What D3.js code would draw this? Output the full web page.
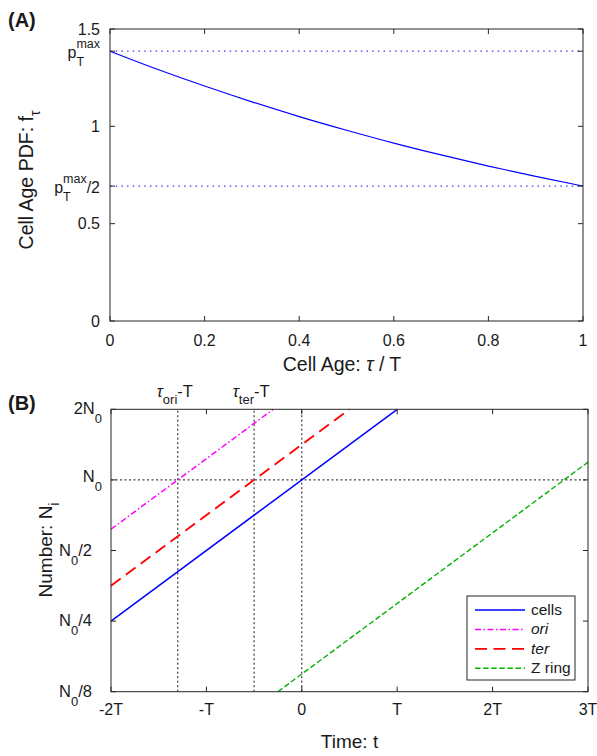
<!DOCTYPE html>
<html><head><meta charset="utf-8">
<script src="https://cdn.jsdelivr.net/npm/d3@7"></script>
<style>
body{margin:0;background:#fff}
text{font-family:"Liberation Sans",Arial,Helvetica,sans-serif;fill:#1a1a1a;white-space:pre}
</style>
</head><body>
<svg id="c" width="597" height="756"></svg>
<script>
// ---------------- DATA ----------------
// Panel A: cell age PDF
const tauA = [0, 0.1, 0.2, 0.3, 0.4, 0.5, 0.6, 0.7, 0.8, 0.9, 1];
const pdfA = [1.386, 1.293, 1.207, 1.126, 1.050, 0.980, 0.914, 0.853, 0.796, 0.743, 0.693];
const refLevelsA = [1.386, 0.693];            // p_T^max and p_T^max/2
const xTicksA = [0, 0.2, 0.4, 0.6, 0.8, 1];
const xTickLabelsA = ["0", "0.2", "0.4", "0.6", "0.8", "1"];
const yTicksA = [0, 0.5, 0.693, 1, 1.386, 1.5];
const yTickLabelsA = ["0", "0.5", "p_T^{max}/2", "1", "p_T^{max}", "1.5"];

// Panel B: numbers vs time (t in units of T, N in units of N0)
const seriesNames = ["cells", "ori", "ter", "Z ring"];
const cellsT = [-2, 1],     cellsN = [0.25, 2];
const oriT   = [-2, -0.3],  oriN   = [0.616, 2];
const terT   = [-2, 0.5],   terN   = [0.354, 2];
const zringT = [-0.25, 3],  zringN = [0.125, 1.19];
const xTicksB = [-2, -1, 0, 1, 2, 3];
const xTickLabelsB = ["-2T", "-T", "0", "T", "2T", "3T"];
const yTicksB = [0.125, 0.25, 0.5, 1, 2];
const yTickLabelsB = ["N_0/8", "N_0/4", "N_0/2", "N_0", "2N_0"];
const vLinesB = [-1.3, -0.5, 0];
const vLineLabelsB = ["τ_{ori}-T", "τ_{ter}-T"];
const hLineB = 1;

// ---------------- HELPERS ----------------
const svg = d3.select("#c");
const AX = "#262626";

function parseTex(s) {
  const parts = []; let buf = "";
  const flush = () => { if (buf) { parts.push({type: "text", text: buf}); buf = ""; } };
  for (let i = 0; i < s.length; i++) {
    const c = s[i];
    if (c === "_" || c === "^") {
      flush();
      let g;
      if (s[i + 1] === "{") { const j = s.indexOf("}", i); g = s.slice(i + 2, j); i = j; }
      else { g = s[i + 1]; i++; }
      const key = c === "_" ? "sub" : "sup";
      const last = parts[parts.length - 1];
      if (last && last.type === "script" && !last[key]) last[key] = g;
      else parts.push({type: "script", [key]: g});
    } else if (c === "τ") {
      flush(); parts.push({type: "text", text: "τ", italic: true});
    } else buf += c;
  }
  flush();
  return parts;
}

function mathText(parent, str, o) {
  const fs = o.fs, ss = o.ss || Math.round(fs * 0.8);
  const g = parent.append("g");
  let cx = 0;
  const add = (t, x, y, size, it) => {
    const el = g.append("text").attr("x", x).attr("y", y).style("font-size", size + "px").text(t);
    if (it) el.style("font-style", "italic");
    return el.node().getComputedTextLength();
  };
  parseTex(str).forEach(p => {
    if (p.type === "text") cx += add(p.text, cx, 0, fs, p.italic || o.italic);
    else {
      let w = 0;
      if (p.sub) w = Math.max(w, add(p.sub, cx, o.subDy ?? 8, ss));
      if (p.sup) w = Math.max(w, add(p.sup, cx, o.supDy ?? -9.5, ss));
      cx += w;
    }
  });
  const shift = o.anchor === "end" ? -cx : o.anchor === "middle" ? -cx / 2 : 0;
  g.selectAll("text").attr("x", function () { return +this.getAttribute("x") + shift; });
  g.attr("transform", `translate(${o.x},${o.y})` + (o.rotate ? ` rotate(${o.rotate})` : ""));
  return g;
}

function frame(x0, x1, y0, y1) {
  svg.append("rect").attr("x", x0).attr("y", y1).attr("width", x1 - x0).attr("height", y0 - y1)
    .attr("fill", "none").attr("stroke", AX).attr("stroke-width", 1);
}
function ticks(xs, ys, xTickVals, yTickVals, len) {
  const [x0, x1] = xs.range(), [y0, y1] = ys.range();
  const g = svg.append("g").attr("stroke", AX).attr("stroke-width", 1);
  xTickVals.forEach(v => {
    const x = xs(v);
    g.append("line").attr("x1", x).attr("x2", x).attr("y1", y0).attr("y2", y0 - len);
    g.append("line").attr("x1", x).attr("x2", x).attr("y1", y1).attr("y2", y1 + len);
  });
  yTickVals.forEach(v => {
    const y = ys(v);
    g.append("line").attr("x1", x0).attr("x2", x0 + len).attr("y1", y).attr("y2", y);
    g.append("line").attr("x1", x1).attr("x2", x1 - len).attr("y1", y).attr("y2", y);
  });
}

// ---------------- PANEL A ----------------
const xA = d3.scaleLinear().domain([0, 1]).range([110, 583]);
const yA = d3.scaleLinear().domain([0, 1.5]).range([321, 29]);

refLevelsA.forEach(v => {
  svg.append("line").attr("x1", xA(0)).attr("x2", xA(1)).attr("y1", yA(v)).attr("y2", yA(v))
    .attr("stroke", "#3a3aff").attr("stroke-width", 1.2).attr("stroke-dasharray", "1.5,4.2");
});
svg.append("path").datum(tauA.map((t, i) => [t, pdfA[i]]))
  .attr("d", d3.line().x(d => xA(d[0])).y(d => yA(d[1])).curve(d3.curveMonotoneX))
  .attr("fill", "none").attr("stroke", "#0000ff").attr("stroke-width", 1.2);

frame(110, 583, 321, 29);
ticks(xA, yA, xTicksA, yTicksA, 5);

xTicksA.forEach((v, i) => mathText(svg, xTickLabelsA[i], {x: xA(v), y: 346, fs: 16, anchor: "middle"}));
yTicksA.forEach((v, i) => {
  const lab = yTickLabelsA[i];
  const hasScript = /[_^]/.test(lab);
  mathText(svg, lab, {x: 100, y: yA(v) + (hasScript ? 6.5 : 5.8), fs: 16, ss: 12.5, anchor: "end", subDy: 8, supDy: -9.5});
});
mathText(svg, "Cell Age: τ / T", {x: 342, y: 371, fs: 19.5, anchor: "middle"});
mathText(svg, "Cell Age PDF: f_τ", {x: 33, y: 180, fs: 19.5, ss: 14, anchor: "middle", rotate: -90, subDy: 7});
svg.append("text").attr("x", 8).attr("y", 27).style("font-size", "20px").style("font-weight", "bold").text("(A)");

// ---------------- PANEL B ----------------
const xB = d3.scaleLinear().domain([-2, 3]).range([111, 588]);
const yB = d3.scaleLog().base(2).domain([0.125, 2]).range([691.7, 409.3]);

const dotted = svg.append("g").attr("stroke", "#111").attr("stroke-width", 1).attr("stroke-dasharray", "2,2.5");
vLinesB.forEach(v => dotted.append("line").attr("x1", xB(v)).attr("x2", xB(v)).attr("y1", yB(0.125)).attr("y2", yB(2)));
dotted.append("line").attr("x1", xB(-2)).attr("x2", xB(3)).attr("y1", yB(hLineB)).attr("y2", yB(hLineB));

const seriesT = [cellsT, oriT, terT, zringT];
const seriesN = [cellsN, oriN, terN, zringN];
const seriesColor = ["#0000ff", "#ff00ff", "#ff0000", "#00b300"];
const seriesDash = [null, "6,2.5,1.5,2.5", "12,6.5", "5.5,2.6"];
const seriesWidth = [1.5, 1.5, 1.8, 1.4];
const lineB = d3.line().x(d => xB(d[0])).y(d => yB(d[1]));
seriesT.forEach((ts, k) => {
  svg.append("path").datum(ts.map((t, i) => [t, seriesN[k][i]])).attr("d", lineB)
    .attr("fill", "none").attr("stroke", seriesColor[k]).attr("stroke-width", seriesWidth[k])
    .attr("stroke-dasharray", seriesDash[k]);
});

frame(111, 588, 691.7, 409.3);
ticks(xB, yB, xTicksB, yTicksB, 5);

xTicksB.forEach((v, i) => mathText(svg, xTickLabelsB[i], {x: xB(v), y: 715, fs: 16, anchor: "middle"}));
yTicksB.forEach((v, i) => {
  const lab = yTickLabelsB[i];
  const xr = lab.includes("/") ? 92 : 102;
  mathText(svg, lab, {x: xr, y: yB(v) + (v === 1 ? 2 : 5), fs: 16.5, ss: 13, anchor: "end", subDy: 9});
});
vLineLabelsB.forEach((lab, i) => mathText(svg, lab, {x: xB(vLinesB[i]) - 3, y: 396.5, fs: 16.5, ss: 13, anchor: "middle", subDy: 7}));
mathText(svg, "Time: t", {x: 349.5, y: 748, fs: 19, anchor: "middle"});
mathText(svg, "Number: N_i", {x: 51.5, y: 550, fs: 19, ss: 14, anchor: "middle", rotate: -90, subDy: 7});
svg.append("text").attr("x", 8).attr("y", 410).style("font-size", "20px").style("font-weight", "bold").text("(B)");

// Legend
const lg = svg.append("g");
lg.append("rect").attr("x", 467).attr("y", 596).attr("width", 108).attr("height", 84)
  .attr("fill", "#fff").attr("stroke", AX).attr("stroke-width", 1);
seriesNames.forEach((name, k) => {
  const y = 610 + k * 19.4;
  lg.append("line").attr("x1", 475).attr("x2", 525).attr("y1", y).attr("y2", y)
    .attr("stroke", seriesColor[k]).attr("stroke-width", seriesWidth[k]).attr("stroke-dasharray", seriesDash[k]);
  mathText(lg, name, {x: 531, y: y + 5, fs: 15.5, italic: name === "ori" || name === "ter"});
});
</script>
</body></html>
